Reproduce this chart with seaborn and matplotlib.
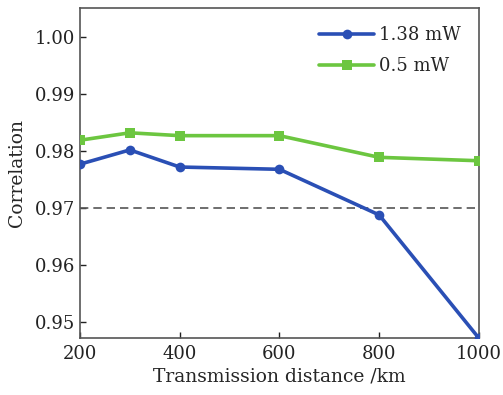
import pandas as pd
import matplotlib
matplotlib.use("Agg")
import matplotlib.pyplot as plt
import seaborn as sns

distance = [200, 300, 400, 600, 800, 1000]
corr_138mw = [0.9777, 0.9802, 0.9772, 0.9768, 0.9688, 0.9472]
corr_05mw = [0.9819, 0.9832, 0.9827, 0.9827, 0.9789, 0.9783]
threshold = 0.97

sns.set_style("ticks")
plt.rcParams['font.family'] = ['DejaVu Serif']
plt.rcParams['mathtext.fontset'] = 'dejavuserif'

data = pd.DataFrame({
    'distance': distance * 2,
    'corr': corr_138mw + corr_05mw,
    'power': ['1.38 mW'] * len(distance) + ['0.5 mW'] * len(distance),
})

fig = plt.figure(figsize=(5.03, 3.95), dpi=100)
ax = fig.add_axes([0.159, 0.144, 0.793, 0.836])

ax.axhline(threshold, color='#555555', linestyle=(0, (5, 3)), linewidth=1.2, zorder=1)

sns.lineplot(data=data, x='distance', y='corr', hue='power', style='power',
             palette={'1.38 mW': '#2a4fb5', '0.5 mW': '#6cc640'},
             markers={'1.38 mW': 'o', '0.5 mW': 's'}, dashes=False,
             linewidth=2.6, markersize=7, markeredgewidth=0, ax=ax, zorder=3)

ax.set_xlim(200, 1000)
ax.set_ylim(0.9472, 1.0051)
ax.set_xticks([200, 400, 600, 800, 1000])
ax.set_yticks([0.95, 0.96, 0.97, 0.98, 0.99, 1.00])
ax.set_yticklabels(['0.95', '0.96', '0.97', '0.98', '0.99', '1.00'])
ax.tick_params(direction='in', length=4, width=1, labelsize=13, colors='#222222')
ax.tick_params(axis='x', pad=5)
for s in ax.spines.values():
    s.set_color('#555555')
    s.set_linewidth(1.2)

ax.set_xlabel('Transmission distance /km', fontsize=13.5, labelpad=3)
ax.set_ylabel('Correlation', fontsize=13.5, labelpad=6)

leg = ax.legend(loc='upper right', frameon=False, fontsize=13, handlelength=3.0,
                borderaxespad=0.6, labelspacing=0.75, handletextpad=0.3)
leg.set_title(None)

fig.savefig('out.png', dpi=100)
